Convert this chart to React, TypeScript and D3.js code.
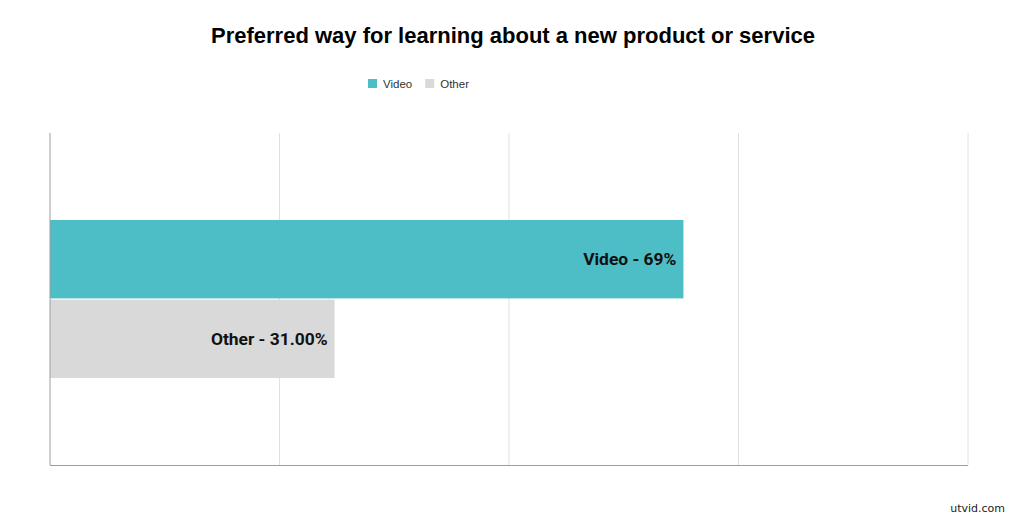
import React, { useRef, useEffect } from "react";
import * as d3 from "d3";

const CATEGORIES = ["Preferred way"];
const SERIES = ["Video", "Other"];
const VALUES = [69, 31];
const VALUE_LABELS = ["Video - 69%", "Other - 31.00%"];
const COLORS = ["#4dbdc6", "#d9d9d9"];
const X_TICKS = [0, 25, 50, 75, 100];

const W = 1024;
const H = 518;

const App: React.FC = () => {
  const svgRef = useRef<SVGSVGElement | null>(null);

  useEffect(() => {
    if (!svgRef.current) return;
    const svg = d3.select(svgRef.current);
    svg.selectAll("*").remove();

    const left = 50;
    const right = 968;
    const top = 133;
    const bottom = 465;

    const x = d3.scaleLinear().domain([0, 100]).range([left, right]);
    const y0 = d3
      .scaleBand<string>()
      .domain(CATEGORIES)
      .range([top, bottom])
      .padding(0.355);
    const y1 = d3
      .scaleBand<string>()
      .domain(SERIES)
      .range([0, y0.bandwidth()])
      .paddingInner(0.015);

    // title
    svg
      .append("text")
      .attr("x", 513)
      .attr("y", 43)
      .attr("text-anchor", "middle")
      .attr("font-family", '"Liberation Sans", Arial, sans-serif')
      .attr("font-weight", 700)
      .attr("font-size", "22px")
      .attr("fill", "#000")
      .text("Preferred way for learning about a new product or service");

    // legend
    const legend = svg.append("g").attr("transform", "translate(368,79)");
    let lx = 0;
    SERIES.forEach((s, i) => {
      legend
        .append("rect")
        .attr("x", lx)
        .attr("y", 0)
        .attr("width", 9)
        .attr("height", 9)
        .attr("fill", COLORS[i]);
      const t = legend
        .append("text")
        .attr("x", lx + 15)
        .attr("y", 8.5)
        .attr("font-family", '"Liberation Sans", Arial, sans-serif')
        .attr("font-size", "11.5px")
        .attr("fill", "#333")
        .text(s);
      lx += 15 + (t.node() as SVGTextElement).getComputedTextLength() + 13;
    });

    // gridlines
    svg
      .append("g")
      .selectAll("line")
      .data(X_TICKS.slice(1))
      .join("line")
      .attr("x1", (d) => x(d))
      .attr("x2", (d) => x(d))
      .attr("y1", top)
      .attr("y2", bottom)
      .attr("stroke", "#e0e0e0")
      .attr("stroke-width", 1);

    // bars
    const g = svg
      .append("g")
      .attr("transform", `translate(0,${y0(CATEGORIES[0])})`);
    g.selectAll("rect")
      .data(VALUES)
      .join("rect")
      .attr("x", x(0))
      .attr("y", (_, i) => y1(SERIES[i])!)
      .attr("width", (d) => x(d) - x(0))
      .attr("height", y1.bandwidth())
      .attr("fill", (_, i) => COLORS[i]);

    g.selectAll("text")
      .data(VALUES)
      .join("text")
      .attr("x", (d) => x(d) - 7)
      .attr("y", (_, i) => y1(SERIES[i])! + y1.bandwidth() / 2)
      .attr("dy", "0.36em")
      .attr("text-anchor", "end")
      .attr("font-family", "Roboto, sans-serif")
      .attr("font-weight", 700)
      .attr("font-size", "17.4px")
      .attr("fill", "#111")
      .text((_, i) => VALUE_LABELS[i]);

    // axes
    svg
      .append("line")
      .attr("x1", x(0))
      .attr("x2", x(0))
      .attr("y1", top)
      .attr("y2", bottom)
      .attr("stroke", "#9e9e9e");
    svg
      .append("line")
      .attr("x1", x(0))
      .attr("x2", x(100))
      .attr("y1", bottom + 0.5)
      .attr("y2", bottom + 0.5)
      .attr("stroke", "#9e9e9e")
      .attr("stroke-width", 1.2);

    // watermark
    svg
      .append("text")
      .attr("x", 1005)
      .attr("y", 512)
      .attr("text-anchor", "end")
      .attr("font-family", '"DejaVu Sans", sans-serif')
      .attr("font-size", "11px")
      .attr("fill", "#222")
      .text("utvid.com");
  }, []);

  return (
    <svg
      ref={svgRef}
      width={W}
      height={H}
      style={{ display: "block", position: "absolute", left: 0, top: 0, background: "#fff" }}
    />
  );
};

export default App;
